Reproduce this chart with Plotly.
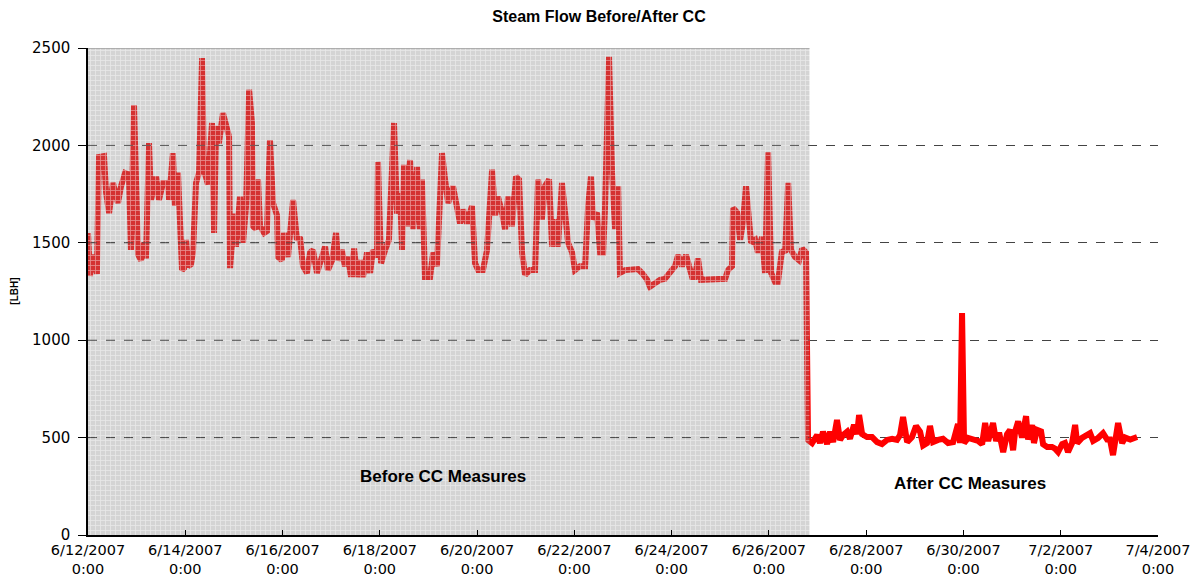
import pandas as pd
import plotly.graph_objects as go

# ---- data -------------------------------------------------------------
start = pd.Timestamp("2007-06-12 00:00")

# hours since 6/12/2007 0:00
hours = [
    0.0, 1.0, 2.0, 3.0, 3.9, 4.4, 5.4, 7.9, 8.9, 10.4, 12.3, 14.8, 16.3, 18.3, 20.2, 21.2,
    22.7, 23.7, 24.7, 26.2, 27.6, 28.6, 30.1, 31.1, 33.6, 35.0, 37.0, 39.5, 40.0, 41.9,
    42.9, 44.4, 46.4, 47.4, 48.4, 49.4, 50.8, 51.8, 53.3, 54.8, 56.3, 57.2, 59.2, 61.2,
    62.2, 63.2, 64.6, 66.6, 68.1, 69.6, 70.1, 72.1, 73.0, 75.0, 76.5, 78.0, 79.5, 80.9,
    81.4, 82.9, 83.9, 84.9, 86.9, 88.3, 89.8, 91.3, 93.3, 93.8, 95.7, 96.7, 98.7, 101.2,
    103.1, 104.6, 106.1, 108.1, 109.6, 111.0, 113.0, 114.5, 117.0, 118.4, 120.4, 122.4,
    123.4, 125.3, 126.8, 128.3, 129.8, 131.3, 132.8, 134.2, 135.7, 137.7, 139.2, 140.6,
    142.6, 143.1, 144.6, 146.6, 148.5, 151.0, 152.5, 154.0, 155.0, 155.9, 157.4, 158.9,
    160.4, 162.4, 163.8, 164.8, 166.3, 168.8, 170.3, 172.2, 174.7, 176.2, 177.7, 180.1,
    182.1, 183.6, 185.1, 187.0, 189.5, 191.0, 192.5, 194.9, 196.9, 199.4, 200.9, 202.3,
    204.3, 205.8, 207.3, 209.2, 211.2, 212.7, 214.2, 215.7, 218.1, 220.6, 222.1, 224.0,
    225.5, 227.5, 229.0, 230.5, 231.9, 233.9, 235.4, 236.9, 238.9, 240.3, 242.8, 245.3,
    246.8, 248.2, 249.2, 251.2, 252.7, 254.2, 255.1, 257.1, 258.6, 260.1, 261.6, 262.5,
    265.0, 268.5, 271.4, 273.4, 275.9, 277.3, 279.8, 282.3, 284.7, 287.2, 289.7, 291.2,
    293.1, 295.1, 296.1, 298.1, 299.5, 301.0, 302.5, 306.0, 309.4, 314.4, 315.8, 317.8,
    318.3, 320.3, 321.8, 323.2, 324.7, 326.2, 327.2, 329.2, 330.6, 332.6, 334.1, 335.6,
    337.1, 339.0, 340.5, 342.5, 344.0, 345.5, 346.9, 348.9, 350.9, 352.4, 354.3, 355.3,
    357.3, 359.8, 361.2, 362.7, 364.7, 366.2, 367.7, 369.6, 371.1, 372.6, 374.6, 376.0,
    378.0, 379.5, 380.5, 382.0, 384.4, 386.9, 389.4, 391.8, 394.3, 396.8, 399.2, 400.7,
    402.2, 404.2, 406.6, 408.6, 410.6, 412.1, 414.0, 415.5, 417.0, 419.5, 421.9, 424.4,
    426.9, 429.3, 430.3, 431.3, 432.3, 434.3, 436.7, 439.2, 441.2, 442.7, 444.2, 446.6,
    448.1, 449.6, 451.6, 453.5, 455.0, 456.5, 457.5, 459.0, 460.9, 462.9, 463.9, 465.9,
    466.8, 468.3, 470.3, 471.3, 473.3, 475.7, 477.2, 478.7, 480.7, 482.1, 483.6, 485.6,
    487.1, 488.1, 490.5, 492.0, 494.5, 496.0, 498.4, 500.9, 502.9, 504.3, 505.8, 508.3,
    510.3, 511.8, 514.3, 517.7,
]

steam_flow = [
    1550, 1330, 1440, 1350, 1420, 1340, 1940, 1945, 1760, 1653, 1807, 1704, 1790, 1858, 1850, 1463,
    2207, 1722, 1440, 1410, 1500, 1420, 2012, 1720, 1840, 1720, 1807, 1807, 1720, 1960,
    1690, 1860, 1360, 1370, 1515, 1380, 1390, 1450, 1807, 1860, 2448, 1875, 1800, 2115,
    1550, 2100, 2010, 2165, 2115, 2045, 1370, 1650, 1480, 1737, 1500, 1690, 2285, 2115,
    1585, 1570, 1825, 1585, 1550, 1560, 2027, 1704, 1640, 1427, 1410, 1550, 1427, 1720,
    1515, 1530, 1380, 1345, 1450, 1463, 1345, 1395, 1480, 1360, 1410, 1550,
    1410, 1463, 1380, 1427, 1325, 1470, 1325, 1410, 1325, 1450, 1345, 1463,
    1427, 1915, 1395, 1463, 1515, 2115, 1650, 1755, 1463, 1900, 1585, 1925,
    1570, 1890, 1570, 1825, 1325, 1325, 1450, 1380, 1960, 1825, 1704, 1790,
    1690, 1600, 1670, 1600, 1690, 1395, 1360, 1360, 1463, 1875, 1640, 1737,
    1655, 1570, 1737, 1585, 1840, 1825, 1450, 1335, 1360, 1360, 1825, 1620,
    1790, 1825, 1480, 1620, 1480, 1807, 1655, 1500, 1450, 1360, 1380, 1380,
    1690, 1840, 1620, 1655, 1450, 1450, 1670, 2455, 1860, 1570, 1790, 1345,
    1360, 1360, 1365, 1345, 1310, 1275, 1290, 1310, 1315, 1350, 1380, 1437,
    1380, 1437, 1390, 1325, 1325, 1420, 1310, 1310, 1315, 1315, 1360, 1380,
    1678, 1655, 1515, 1605, 1790, 1640, 1500, 1515, 1450, 1530, 1345, 1965,
    1345, 1300, 1300, 1463, 1450, 1807, 1463, 1427, 1410, 1470, 1450, 488,
    472, 513, 472, 530, 467, 530, 477, 590, 488, 513, 530, 494,
    565, 518, 616, 518, 503, 503, 477, 467, 488, 494, 488, 513,
    606, 477, 503, 560, 530, 460, 472, 560, 477, 488, 494, 472,
    477, 570, 472, 1140, 472, 498, 490, 483, 466, 575, 483, 575,
    483, 525, 426, 517, 540, 435, 532, 583, 500, 610, 490, 565,
    472, 540, 532, 466, 452, 452, 443, 426, 466, 472, 426, 472,
    565, 472, 498, 506, 523, 483, 498, 523, 490, 490, 410, 575,
    472, 500, 490, 503,
]

before_period = ["2007-06-12 00:00", "2007-06-26 20:00"]
before_label = "Before CC Measures"
after_label = "After CC Measures"
label_positions = {"before": ("2007-06-19 07:00", 300), "after": ("2007-06-30 03:00", 265)}

y_max = 2500
y_ticks = [0, 500, 1000, 1500, 2000, 2500]
x_tick_dates = pd.date_range("2007-06-12", "2007-07-04", freq="2D")
x_tick_labels = [f"{d.month}/{d.day}/{d.year}<br>0:00" for d in x_tick_dates]

times = [start + pd.Timedelta(hours=h) for h in hours]

# ---- figure -----------------------------------------------------------
FONT = "Liberation Sans, Arial, sans-serif"
TICKFONT = "DejaVu Sans, Liberation Sans, sans-serif"
fig = go.Figure()

fig.add_trace(go.Scatter(
    x=times, y=steam_flow, mode="lines",
    line=dict(color="#ff0000", width=6),
    showlegend=False, hoverinfo="x+y",
))

# hatched "before" area drawn on top of the line (semi-transparent)
b0, b1 = pd.Timestamp(before_period[0]), pd.Timestamp(before_period[1])
fig.add_trace(go.Scatter(
    x=[b0, b1, b1, b0, b0], y=[0, 0, y_max, y_max, 0],
    mode="lines", fill="toself",
    line=dict(width=0),
    fillcolor="rgba(140,140,140,0.35)",
    fillpattern=dict(shape="+", fgcolor="rgba(255,255,255,0.9)",
                     bgcolor="rgba(135,135,135,0.36)", size=5, solidity=0.3),
    showlegend=False, hoverinfo="skip",
))
# grey top edge of hatched area
fig.add_trace(go.Scatter(
    x=[b0, b1], y=[y_max, y_max], mode="lines",
    line=dict(color="#a0a0a0", width=1.5), showlegend=False, hoverinfo="skip",
))

# dashed grid lines visible through the hatched area
for yv in y_ticks[1:-1]:
    fig.add_shape(type="line", xref="x", yref="y", x0=b0, x1=b1, y0=yv, y1=yv,
                  layer="above", line=dict(color="rgba(70,70,70,0.75)", width=1, dash="dash"))

fig.add_annotation(x=label_positions["before"][0], y=label_positions["before"][1],
                   text=f"<b>{before_label}</b>", showarrow=False,
                   font=dict(family=FONT, size=17, color="black"))
fig.add_annotation(x=label_positions["after"][0], y=label_positions["after"][1],
                   text=f"<b>{after_label}</b>", showarrow=False,
                   font=dict(family=FONT, size=17, color="black"))
fig.add_annotation(xref="paper", yref="paper", x=-0.069, y=0.5,
                   xanchor="center", yanchor="middle",
                   text="<b>[LBH]</b>", showarrow=False, textangle=-90,
                   font=dict(family=FONT, size=10, color="black"))

fig.update_layout(
    width=1198, height=577,
    margin=dict(l=88, r=40, t=48, b=42),
    paper_bgcolor="white", plot_bgcolor="white",
    font=dict(family=FONT, color="black"),
    title=dict(text="<b>Steam Flow Before/After CC</b>", x=0.5, xanchor="center",
               y=0.972, yanchor="middle", font=dict(family=FONT, size=16, color="black")),
    xaxis=dict(
        range=[x_tick_dates[0], x_tick_dates[-1]],
        tickvals=list(x_tick_dates), ticktext=x_tick_labels,
        ticks="inside", ticklen=5, tickcolor="black",
        showline=True, linecolor="black", linewidth=1.5,
        showgrid=False, zeroline=False, automargin=False,
        ticklabelstandoff=1,
        tickfont=dict(family=TICKFONT, size=14.5, color="black"),
    ),
    yaxis=dict(
        range=[0, y_max], tickvals=y_ticks,
        ticks="outside", ticklen=8, tickcolor="black",
        showline=True, linecolor="black", linewidth=1.5,
        showgrid=True, gridcolor="#444444", griddash="dash", gridwidth=1,
        zeroline=False, automargin=False,
        ticklabelstandoff=5,
        tickfont=dict(family=TICKFONT, size=15, color="black"),
    ),
)

fig.write_html("out.html", config={"displayModeBar": False},
               post_script="document.body.style.margin='0';")
